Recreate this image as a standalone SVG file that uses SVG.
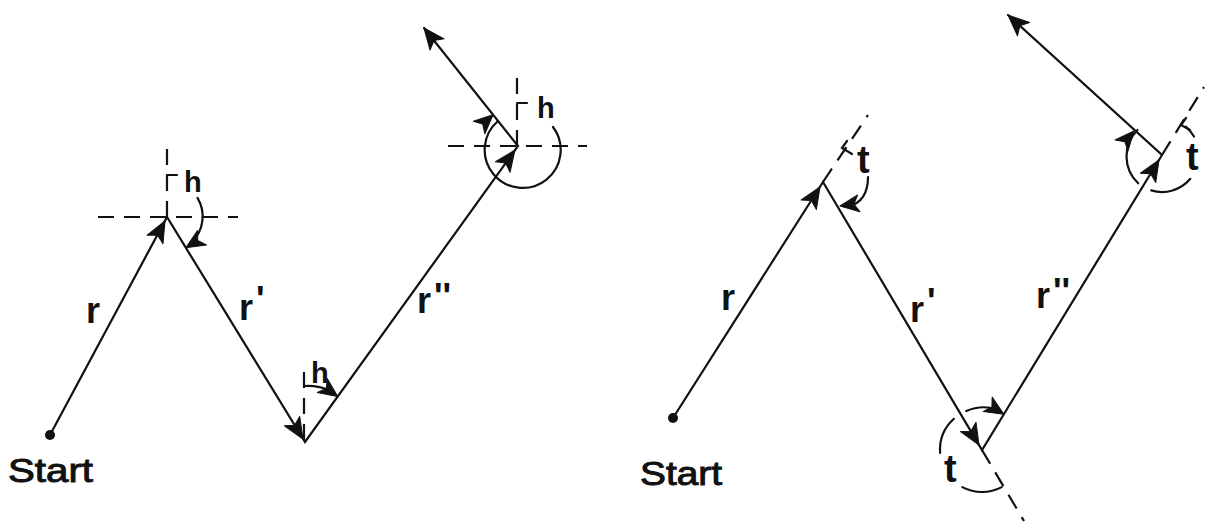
<svg xmlns="http://www.w3.org/2000/svg" xmlns:xlink="http://www.w3.org/1999/xlink" width="1213" height="524" viewBox="0 0 1213 524">
<style>
.ln{stroke:#111;stroke-width:2.2;fill:none;stroke-linecap:round}
.ds{stroke:#111;stroke-width:2.2;fill:none;stroke-dasharray:16 10}
.arc{stroke:#111;stroke-width:2.2;fill:none;stroke-linecap:round}
.ah{fill:#111;stroke:#111;stroke-width:1;stroke-linejoin:round}
.lbl{font-family:"Liberation Sans",Arial,sans-serif;font-weight:bold;fill:#111}
.st{font-family:"Liberation Sans",Arial,sans-serif;font-size:34px;fill:#111;stroke:#111;stroke-width:1}
</style>
<defs>
<path id="ah" d="M0,0 L-21,-9 L-16,0 L-21,9 Z"/>
<path id="ahs" d="M0,0 L-19,-8.5 L-14,0 L-19,8.5 Z"/>
</defs>
<rect width="1213" height="524" fill="#fff"/>

<g id="connectors">
  <path class="ln" d="M50,435 L167,217 L305,442 L518,146 L424,28"/>
  <path class="ln" d="M673,418 L823,182 L982,450 L1162,155 L1008,15"/>
  <use href="#ah" class="ah" transform="translate(165,221) rotate(-61.8)"/>
  <use href="#ah" class="ah" transform="translate(303,439) rotate(58.5)"/>
  <use href="#ah" class="ah" transform="translate(515,150) rotate(-54.3)"/>
  <use href="#ah" class="ah" transform="translate(424,28) rotate(-128.5)"/>
  <use href="#ah" class="ah" transform="translate(820,187) rotate(-57.6)"/>
  <use href="#ah" class="ah" transform="translate(979,445) rotate(59.3)"/>
  <use href="#ah" class="ah" transform="translate(1159,160) rotate(-58.6)"/>
  <use href="#ah" class="ah" transform="translate(1008,15) rotate(-137.7)"/>
</g>

<g id="start-left">
  <circle cx="50" cy="435" r="5" fill="#111"/>
  <text class="st" x="8" y="482" textLength="85" lengthAdjust="spacingAndGlyphs">Start</text>
</g>
<g id="start-right">
  <circle cx="673" cy="418" r="5" fill="#111"/>
  <text class="st" x="640" y="485" textLength="82" lengthAdjust="spacingAndGlyphs">Start</text>
</g>

<g id="left-labels">
  <text class="lbl" font-size="36" x="86" y="323">r</text>
  <text class="lbl" font-size="36" x="239" y="320">r<tspan dx="3" dy="-8">'</tspan></text>
  <text class="lbl" font-size="36" x="417" y="313">r<tspan dx="3" dy="-4">''</tspan></text>
</g>
<g id="right-labels">
  <text class="lbl" font-size="36" x="721" y="310">r</text>
  <text class="lbl" font-size="36" x="910" y="322">r<tspan dx="3" dy="-8">'</tspan></text>
  <text class="lbl" font-size="36" x="1036" y="308">r<tspan dx="3" dy="-4">''</tspan></text>
</g>

<g id="left-vertex-1">
  <path class="ds" d="M98,217 L238,217"/>
  <path class="ds" d="M167,217 L167,145"/>
  <path class="ln" d="M167,175 L177,175"/>
  <text class="lbl" font-size="29" x="184" y="192">h</text>
  <path class="arc" d="M197.5,197.9 A36,36 0 0 1 192,242"/>
  <use href="#ahs" class="ah" transform="translate(185.8,247.7) rotate(148.5)"/>
</g>
<g id="left-vertex-2">
  <path class="ds" d="M304,440 L304,365"/>
  <text class="lbl" font-size="29" x="311" y="383">h</text>
  <path class="arc" d="M305,386 A56,56 0 0 1 331,391"/>
  <use href="#ahs" class="ah" transform="translate(337.7,396.6) rotate(35.7)"/>
</g>
<g id="left-vertex-3">
  <path class="ds" d="M448,146 L587,146"/>
  <path class="ds" d="M517,146 L517,68"/>
  <path class="ln" d="M517,103 L527,103"/>
  <text class="lbl" font-size="29" x="537" y="118">h</text>
  <path class="arc" d="M553,127 A38,38 0 1 1 498,121"/>
  <use href="#ahs" class="ah" transform="translate(493.1,114.7) rotate(-42.4)"/>
</g>

<g id="right-vertex-1">
  <path class="ds" d="M823,182 L868,115"/>
  <path class="ln" d="M847,141 L842,148 L852,154"/>
  <text class="lbl" font-size="38" x="857" y="173">t</text>
  <path class="arc" d="M868,177 C868,192 862,204 848,206"/>
  <use href="#ahs" class="ah" transform="translate(840,206) rotate(172)"/>
</g>
<g id="right-vertex-2">
  <path class="ds" d="M982,450 L1024,521"/>
  <text class="lbl" font-size="38" x="944" y="482">t</text>
  <path class="arc" d="M1001.7,487.1 A42,42 0 0 1 962.3,487.1"/>
  <path class="arc" d="M940.1,452.9 A42,42 0 0 1 953.9,418.8"/>
  <path class="arc" d="M966.3,411.1 A42,42 0 0 1 997,409.5"/>
  <use href="#ahs" class="ah" transform="translate(1003.9,414.2) rotate(31.4)"/>
</g>
<g id="right-vertex-3">
  <path class="ds" d="M1162,155 L1204,87"/>
  <path class="ln" d="M1186,118 L1181,125 L1190,130"/>
  <text class="lbl" font-size="38" x="1186" y="170">t</text>
  <path class="arc" d="M1185.8,126.7 A37,37 0 0 1 1194,136.5"/>
  <path class="arc" d="M1190.3,178.8 A37,37 0 0 1 1151.2,190.4"/>
  <path class="arc" d="M1138.2,183.3 A37,37 0 0 1 1137.5,130"/>
  <use href="#ahs" class="ah" transform="translate(1133.9,131) rotate(-49.5)"/>
</g>
</svg>
